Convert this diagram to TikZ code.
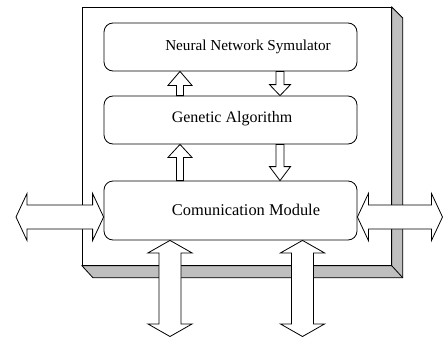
\documentclass[tikz,border=0pt]{standalone}
\usepackage{fontspec}
\setmainfont{Liberation Serif}
\usetikzlibrary{calc}
\newcommand\fatarrow[5]{% #1 from, #2 tip, #3 shaft half width, #4 head half width, #5 head length
  \coordinate (fab) at ($(#2)!#5!(#1)$);
  \draw[fatstyle] ($(#1)!#3!90:(#2)$) -- ($(fab)!#3!-90:(#1)$) -- ($(fab)!#4!-90:(#1)$) -- (#2)
    -- ($(fab)!#4!90:(#1)$) -- ($(fab)!#3!90:(#1)$) -- ($(#1)!#3!-90:(#2)$) -- cycle;}
\newcommand\fatdouble[5]{% #1 tip A, #2 tip B, #3 shaft hw, #4 head hw, #5 head length
  \coordinate (fda) at ($(#1)!#5!(#2)$);
  \coordinate (fdb) at ($(#2)!#5!(#1)$);
  \draw[fatstyle] (#1) -- ($(fda)!#4!90:(#2)$) -- ($(fda)!#3!90:(#2)$) -- ($(fdb)!#3!-90:(#1)$)
    -- ($(fdb)!#4!-90:(#1)$) -- (#2) -- ($(fdb)!#4!90:(#1)$) -- ($(fdb)!#3!90:(#1)$)
    -- ($(fda)!#3!-90:(#2)$) -- ($(fda)!#4!-90:(#2)$) -- cycle;}
\begin{document}
\begin{tikzpicture}[x=1pt,y=-1pt,line width=0.8pt,
  fatstyle/.style={draw=black,fill=white,line join=miter},
  module/.style={draw,fill=white,rounded corners=9pt,minimum width=253pt,inner sep=0pt},
  lbl/.style={inner sep=0pt,anchor=center},
  face/.style={draw,fill=black!25,line join=miter}]
\useasboundingbox (0,0) rectangle (443,337);
\fill[white] (0,0) rectangle (443,337);
% outer 3D box
\node[draw,fill=white,minimum width=309pt,minimum height=258pt,anchor=north west,inner sep=0pt] (outer) at (82,7) {};
\draw[face] (outer.north east) -- ++(11,11) -- ($(outer.south east)+(11,12)$) -- ($(outer.south west)+(11,12)$)
  -- (outer.south west) -- (outer.south east) -- cycle;
\draw (outer.south east) -- ++(11,12);
\node[draw,minimum width=309pt,minimum height=258pt,anchor=north west,inner sep=0pt] at (82,7) {};
% modules
\node[module,minimum height=48pt] (nns) at (230.5,47) {};
\node[module,minimum height=48pt] (ga) at (230.5,120) {};
\node[module,minimum height=59pt] (cm) at (230.5,210.5) {};
\node[lbl,font=\fontsize{15.2}{18}\selectfont] (nnst) at (248,47) {Neural Network Symulator};
\node[lbl,font=\fontsize{16}{19}\selectfont] (gat) at (232,119) {Genetic Algorithm};
\node[lbl,font=\fontsize{16.4}{19}\selectfont] (cmt) at (246,209.5) {Comunication Module};
% coordinates for arrow positions
\coordinate (ux) at (180,0);
\coordinate (dx) at (280,0);
\coordinate (ly) at (0,217);
\coordinate (b1x) at (170,0);
\coordinate (b2x) at (302.5,0);
\coordinate (lend) at (16,217);
\coordinate (rend) at (442.5,217);
\coordinate (bend1) at (170,336.5);
\coordinate (bend2) at (302.5,336.5);
% internal arrows
\fatarrow{ga.north -| ux}{nns.south -| ux}{3.5pt}{12pt}{14pt}
\fatarrow{nns.south -| dx}{ga.north -| dx}{4pt}{10.5pt}{11pt}
\fatarrow{cm.north -| ux}{ga.south -| ux}{3.5pt}{12pt}{13pt}
\fatarrow{ga.south -| dx}{cm.north -| dx}{4pt}{10.5pt}{14pt}
% external double arrows
\fatdouble{lend}{cm.west |- ly}{12pt}{23.5pt}{11pt}
\fatdouble{cm.east |- ly}{rend}{12pt}{23.5pt}{11pt}
\fatdouble{cm.south -| b1x}{bend1}{11pt}{22pt}{12.5pt}
\fatdouble{cm.south -| b2x}{bend2}{11pt}{22pt}{12.5pt}
\end{tikzpicture}
\end{document}
